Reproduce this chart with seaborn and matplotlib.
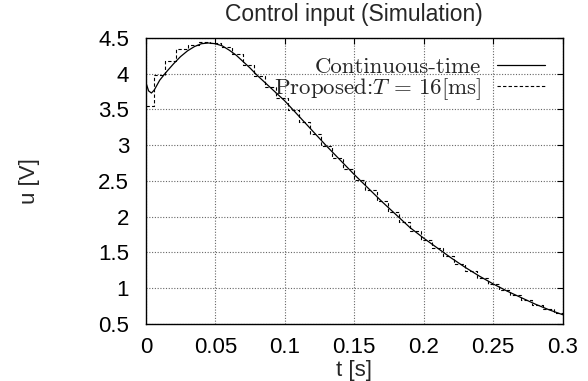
import numpy as np
import pandas as pd
import matplotlib
matplotlib.use("Agg")
import matplotlib.pyplot as plt
import seaborn as sns

# Continuous-time control input u(t)
t_cont = [0.000, 0.002, 0.004, 0.006, 0.008, 0.010, 0.015, 0.020, 0.025, 0.030,
          0.035, 0.040, 0.045, 0.050, 0.055, 0.060, 0.065, 0.070, 0.075, 0.080,
          0.090, 0.100, 0.110, 0.120, 0.130, 0.140, 0.150, 0.160, 0.170, 0.180,
          0.190, 0.200, 0.210, 0.220, 0.230, 0.240, 0.250, 0.260, 0.270, 0.280,
          0.290, 0.300]
u_cont = [3.88, 3.76, 3.73, 3.77, 3.84, 3.91, 4.03, 4.14, 4.24, 4.32,
          4.38, 4.42, 4.43, 4.42, 4.39, 4.33, 4.26, 4.17, 4.08, 3.98,
          3.80, 3.62, 3.41, 3.20, 2.99, 2.79, 2.59, 2.40, 2.21, 2.03,
          1.85, 1.70, 1.56, 1.42, 1.29, 1.17, 1.06, 0.96, 0.87, 0.78,
          0.70, 0.63]

# Sampled (zero-order hold) control input of the proposed method
t_step = [0.000, 0.006, 0.014, 0.022, 0.030, 0.038, 0.046, 0.054, 0.062, 0.070,
          0.078, 0.086, 0.094, 0.102, 0.110, 0.118, 0.126, 0.134, 0.142, 0.150,
          0.158, 0.166, 0.174, 0.182, 0.190, 0.198, 0.206, 0.214, 0.222, 0.230,
          0.238, 0.246, 0.254, 0.262, 0.270, 0.278, 0.286, 0.294, 0.300]
u_step = [3.55, 3.98, 4.18, 4.34, 4.40, 4.44, 4.43, 4.37, 4.27, 4.12,
          3.97, 3.82, 3.66, 3.49, 3.32, 3.16, 2.99, 2.82, 2.67, 2.52,
          2.37, 2.22, 2.07, 1.93, 1.80, 1.67, 1.56, 1.45, 1.34, 1.24,
          1.15, 1.06, 0.98, 0.91, 0.84, 0.77, 0.71, 0.65, 0.65]

x_ticks = [0, 0.05, 0.1, 0.15, 0.2, 0.25, 0.3]
x_ticklabels = ["0", "0.05", "0.1", "0.15", "0.2", "0.25", "0.3"]
y_ticks = [0.5, 1, 1.5, 2, 2.5, 3, 3.5, 4, 4.5]
y_ticklabels = ["0.5", "1", "1.5", "2", "2.5", "3", "3.5", "4", "4.5"]

sns.set_style("white")
plt.rcParams["font.family"] = ["Liberation Sans", "DejaVu Sans"]
plt.rcParams["mathtext.fontset"] = "cm"

df_cont = pd.DataFrame({"t": t_cont, "u": u_cont})
df_step = pd.DataFrame({"t": t_step, "u": u_step})

fig = plt.figure(figsize=(5.88, 3.81), dpi=100)
ax = fig.add_axes([0.248, 0.1496, 0.709, 0.7507])

sns.lineplot(data=df_cont, x="t", y="u", ax=ax, color="black", lw=0.9,
             label="Continuous-time", sort=False)
sns.lineplot(data=df_step, x="t", y="u", ax=ax, color="black", lw=0.8,
             drawstyle="steps-post", dashes=False, linestyle=(0, (3, 2)),
             label=r"Proposed:$T\,=\,16$[ms]", sort=False)

ax.set_xlim(0, 0.3)
ax.set_ylim(0.5, 4.5)
ax.set_xticks(x_ticks)
ax.set_xticklabels(x_ticklabels)
ax.set_yticks(y_ticks)
ax.set_yticklabels(y_ticklabels)
ax.tick_params(direction="in", length=4, width=0.8, top=True, right=True,
               labelsize=16, colors="black")
ax.tick_params(axis="x", pad=9)
ax.tick_params(axis="y", pad=12)
ax.grid(True, linestyle=(0, (1, 1.5)), color="#666666", lw=0.8)
for s in ax.spines.values():
    s.set_color("black")
    s.set_linewidth(1.0)

ax.set_title("Control input (Simulation)", fontsize=16.5, pad=12)
ax.set_xlabel("t [s]", fontsize=16)
ax.xaxis.set_label_coords(0.5, -0.125)
ax.set_ylabel("u [V]", fontsize=16)
ax.yaxis.set_label_coords(-0.255, 0.5)

leg = ax.legend(loc="upper right", bbox_to_anchor=(0.958, 0.935),
                frameon=False, markerfirst=False, handlelength=2.1,
                handletextpad=0.7, labelspacing=0.0, borderaxespad=0,
                borderpad=0, prop={"family": "cmr10", "size": 16.5})
for txt in leg.get_texts():
    txt.set_ha("right")

fig.savefig("out.png", dpi=100)
